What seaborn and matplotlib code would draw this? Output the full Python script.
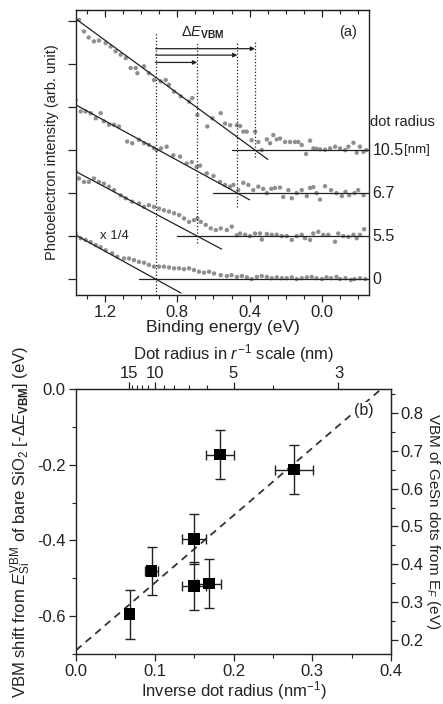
import numpy as np
import matplotlib
matplotlib.use("Agg")
import matplotlib.pyplot as plt
from matplotlib.ticker import MultipleLocator, FixedLocator, FormatStrFormatter
import seaborn as sns

sns.set_style("ticks")
plt.rcParams['font.family'] = ['Liberation Sans', 'DejaVu Sans']
plt.rcParams['axes.unicode_minus'] = False
plt.rcParams['mathtext.fontset'] = 'custom'
plt.rcParams['mathtext.rm'] = 'Liberation Sans'
plt.rcParams['mathtext.it'] = 'Liberation Sans:italic'
plt.rcParams['mathtext.bf'] = 'Liberation Sans:bold'

INK = '#222222'

# ---- panel (a): photoelectron spectra, offset by dot radius ----
x105 = [1.344, 1.316, 1.29, 1.261, 1.233, 1.196, 1.168, 1.141, 1.113, 1.085, 1.058, 1.03, 1.021,
        0.984, 0.957, 0.929, 0.892, 0.864, 0.846, 0.818, 0.781, 0.735, 0.717, 0.689, 0.634, 0.606,
        0.56, 0.536, 0.508, 0.471, 0.453, 0.435, 0.416, 0.389, 0.37, 0.352, 0.333, 0.305, 0.287,
        0.269, 0.25, 0.232, 0.204, 0.177, 0.149, 0.131, 0.112, 0.088, 0.066, 0.048, 0.03, 0.011,
        -0.017, -0.045, -0.073, -0.1, -0.128, -0.146, -0.174, -0.192, -0.21, -0.229, -0.245]
y105 = [6.03, 5.76, 5.62, 5.53, 5.55, 5.49, 5.41, 5.30, 5.22, 5.14, 4.91, 4.91, 4.79,
        4.95, 4.79, 4.63, 4.60, 4.63, 4.52, 4.36, 4.25, 4.13, 4.21, 3.82, 3.55, 3.74,
        3.86, 3.62, 3.58, 3.58, 3.56, 3.43, 3.43, 3.23, 3.43, 3.19, 3.00, 3.25, 3.16,
        3.35, 3.25, 3.27, 3.19, 3.19, 3.19, 3.19, 3.12, 2.91, 3.22, 3.04, 3.03, 3.02,
        3.01, 3.04, 3.08, 3.04, 3.00, 3.08, 3.17, 2.94, 3.08, 2.96, 3.00]

x67 = [1.362, 1.334, 1.307, 1.279, 1.251, 1.224, 1.206, 1.178, 1.15, 1.123, 1.077, 1.049, 1.012,
       0.984, 0.957, 0.929, 0.914, 0.89, 0.859, 0.822, 0.785, 0.748, 0.72, 0.693, 0.674, 0.637,
       0.6, 0.564, 0.536, 0.508, 0.49, 0.463, 0.435, 0.407, 0.38, 0.352, 0.325, 0.305, 0.28,
       0.26, 0.232, 0.214, 0.186, 0.167, 0.14, 0.112, 0.084, 0.066, 0.048, 0.03, 0.011,
       -0.017, -0.05, -0.08, -0.11, -0.13, -0.15, -0.18, -0.2, -0.23]
y67 = [4.17, 3.90, 3.90, 3.86, 3.74, 3.86, 3.67, 3.59, 3.59, 3.55, 3.20, 3.16, 3.24,
       3.16, 3.12, 3.05, 3.00, 3.04, 3.08, 2.88, 2.85, 2.69, 2.72, 2.61, 2.64, 2.46,
       2.40, 2.26, 2.19, 2.15, 2.19, 2.07, 2.24, 2.19, 2.07, 2.15, 2.10, 2.00, 2.10,
       2.12, 2.13, 1.91, 2.07, 1.88, 2.00, 2.07, 1.93, 2.12, 2.14, 2.00, 1.85,
       2.16, 2.07, 2.00, 1.93, 2.03, 1.95, 2.00, 2.07, 1.95]

x55 = [1.362, 1.344, 1.316, 1.289, 1.261, 1.233, 1.206, 1.178, 1.15, 1.113, 1.085, 1.049, 1.012,
       0.984, 0.957, 0.929, 0.901, 0.874, 0.846, 0.818, 0.79, 0.763, 0.735, 0.708, 0.689, 0.67,
       0.643, 0.615, 0.587, 0.56, 0.526, 0.499, 0.471, 0.453, 0.425, 0.398, 0.37, 0.343, 0.333,
       0.305, 0.278, 0.25, 0.222, 0.195, 0.167, 0.14, 0.112, 0.094, 0.066, 0.048, 0.02,
       -0.007, -0.035, -0.072, -0.09, -0.118, -0.146, -0.174, -0.192, -0.21, -0.233]
y55 = [2.50, 2.34, 2.26, 2.26, 2.34, 2.26, 2.22, 2.15, 2.07, 1.95, 1.88, 1.80, 1.76,
       1.68, 1.72, 1.68, 1.64, 1.60, 1.57, 1.53, 1.49, 1.41, 1.33, 1.37, 1.41, 1.33,
       1.26, 1.18, 1.14, 1.18, 1.14, 1.22, 1.02, 1.06, 1.03, 1.00, 1.06, 1.06, 0.92,
       1.05, 1.03, 1.03, 1.00, 1.00, 0.91, 1.00, 1.03, 0.95, 0.91, 1.06, 1.10,
       1.03, 1.03, 0.87, 1.06, 1.00, 0.98, 1.03, 0.95, 1.03, 1.16]

x0 = [1.362, 1.334, 1.307, 1.279, 1.251, 1.224, 1.196, 1.16, 1.132, 1.095, 1.067, 1.04, 1.012,
      0.984, 0.957, 0.929, 0.901, 0.874, 0.846, 0.818, 0.79, 0.763, 0.735, 0.708, 0.68, 0.652,
      0.624, 0.597, 0.56, 0.526, 0.5, 0.47, 0.443, 0.415, 0.389, 0.36, 0.333, 0.305, 0.278,
      0.25, 0.222, 0.195, 0.167, 0.14, 0.112, 0.084, 0.057, 0.03, 0.0, -0.025, -0.05,
      -0.08, -0.1, -0.13, -0.16, -0.18, -0.21, -0.24]
y0 = [1.06, 0.95, 0.91, 0.86, 0.79, 0.74, 0.67, 0.60, 0.52, 0.48, 0.48, 0.44, 0.40,
      0.38, 0.33, 0.29, 0.29, 0.29, 0.27, 0.25, 0.25, 0.23, 0.25, 0.21, 0.17, 0.15,
      0.17, 0.13, 0.09, 0.07, 0.09, 0.05, 0.07, 0.04, 0.00, 0.05, 0.07, 0.05, 0.02,
      0.04, 0.02, 0.02, 0.04, 0.00, 0.02, 0.04, 0.05, 0.02, 0.00, 0.04, 0.02,
      0.05, 0.00, 0.02, -0.02, 0.00, 0.02, 0.00]

# order: r = 0, 5.5, 6.7, 10.5 (bottom to top)
radius_labels = ['0', '5.5', '6.7', '10.5']
baseline = [0, 1, 2, 3]
baseline_start = [1.01, 0.80, 0.60, 0.50]
fit_start_y = [1.02, 2.50, 4.05, 6.05]       # fit line value at 1.36 eV
vbm_edge = [0.92, 0.69, 0.468, 0.37]          # fit line crosses its baseline
fit_end_x = [0.78, 0.555, 0.40, 0.30]
edge_drop_end = [-0.37, 0.84, 1.68, 2.84]     # lower end of the dotted markers
arrow_y = [5.04, 5.21, 5.36]

# ---- panel (b): VBM shift vs inverse radius ----
inv_r = [0.068, 0.096, 0.150, 0.150, 0.169, 0.183, 0.277]
vbm_shift = [-0.595, -0.481, -0.396, -0.521, -0.514, -0.173, -0.213]
inv_r_err = [0.003, 0.008, 0.015, 0.015, 0.015, 0.018, 0.024]
shift_err = [0.065, 0.064, 0.065, 0.064, 0.065, 0.065, 0.065]
fit_intercept, fit_slope = -0.69, 1.78
ef_offset = 0.863
radius_ticks = [15, 10, 5, 3]
radius_minor = [14, 13, 12, 11, 9, 8, 7, 6, 4]

fig = plt.figure(figsize=(4.43, 7.04), dpi=100)
axa = fig.add_axes([0.1716, 0.581, 0.6614, 0.4048])
axb = fig.add_axes([0.1716, 0.071, 0.711, 0.3764])

dot_kw = dict(color='#8f8f8f', s=10, edgecolor='none', ax=axa, zorder=2)
for xs, ys in [(x0, y0), (x55, y55), (x67, y67), (x105, y105)]:
    sns.scatterplot(x=xs, y=ys, **dot_kw)

for i in range(4):
    slope = (fit_start_y[i] - baseline[i]) / (1.36 - vbm_edge[i])
    end_y = baseline[i] + slope * (fit_end_x[i] - vbm_edge[i])
    axa.plot([1.36, fit_end_x[i]], [fit_start_y[i], end_y], color=INK, lw=0.9, zorder=3)
    axa.plot([baseline_start[i], -0.26], [baseline[i], baseline[i]], color=INK, lw=0.9, zorder=3)
    top = 5.75 if i == 0 else 5.52
    axa.plot([vbm_edge[i], vbm_edge[i]], [edge_drop_end[i], top], color=INK, lw=0.9,
             ls=(0, (1, 1.6)), zorder=3)

for j, ay in enumerate(arrow_y):
    axa.annotate('', xy=(vbm_edge[j + 1], ay), xytext=(vbm_edge[0], ay),
                 arrowprops=dict(arrowstyle='-|>', color=INK, lw=0.9,
                                 mutation_scale=6, shrinkA=0, shrinkB=0))

axa.text(0.66, 5.72, r'$\Delta E_{\mathbf{VBM}}$', ha='center', va='center', fontsize=10.5, color=INK)
axa.text(0.93, 0.922, '(a)', transform=axa.transAxes, ha='center', va='center', fontsize=10.5, color=INK)
axa.text(1.23, 1.0, 'x 1/4', ha='left', va='center', fontsize=9.5, color=INK)

blend = matplotlib.transforms.blended_transform_factory(axa.transAxes, axa.transData)
axa.text(1.005, 3.65, 'dot radius', transform=blend, ha='left', va='center', fontsize=10.5,
         color=INK, clip_on=False)
for lab, b in zip(radius_labels, baseline):
    axa.text(1.012, b, lab, transform=blend, ha='left', va='center', fontsize=11.5,
             color=INK, clip_on=False)
axa.text(1.12, 3, '[nm]', transform=blend, ha='left', va='center', fontsize=9.5,
         color=INK, clip_on=False)

axa.set_xlim(1.36, -0.26)
axa.set_ylim(-0.37, 6.26)
axa.xaxis.set_major_locator(MultipleLocator(0.4))
axa.xaxis.set_minor_locator(MultipleLocator(0.1))
axa.xaxis.set_major_formatter(FormatStrFormatter('%.1f'))
axa.yaxis.set_major_locator(MultipleLocator(1))
axa.set_yticklabels([])
axa.tick_params(axis='x', which='major', direction='out', length=5, width=0.9, labelsize=12,
                colors=INK, pad=2.5)
axa.tick_params(axis='x', which='minor', direction='out', length=3, width=0.8, colors=INK)
axa.tick_params(axis='y', which='major', direction='out', length=6, width=0.9, colors=INK)
topa = axa.secondary_xaxis('top')
topa.xaxis.set_major_locator(MultipleLocator(0.4))
topa.xaxis.set_minor_locator(MultipleLocator(0.1))
topa.tick_params(which='major', direction='in', length=5, width=0.9, labeltop=False, colors=INK)
topa.tick_params(which='minor', direction='in', length=3, width=0.8, colors=INK)
axa.set_xlabel('Binding energy (eV)', fontsize=12.5, color=INK, labelpad=0)
axa.set_ylabel('Photoelectron intensity (arb. unit)', fontsize=10.5, color=INK, labelpad=3)
for sp in axa.spines.values():
    sp.set_color(INK)
    sp.set_linewidth(1.0)
topa.spines['top'].set_color(INK)

# ---- panel (b) ----
xs_line = np.array([0.0, 0.4])
axb.plot(xs_line, fit_intercept + fit_slope * xs_line, color='#333333', lw=1.3,
         ls=(0, (4, 3)), zorder=2)
axb.errorbar(inv_r, vbm_shift, xerr=inv_r_err, yerr=shift_err, fmt='none', ecolor=INK,
             elinewidth=1.0, capsize=3.5, capthick=1.0, zorder=3)
sns.scatterplot(x=inv_r, y=vbm_shift, marker='s', s=70, color='black', edgecolor='none',
                ax=axb, zorder=4)
axb.text(0.915, 0.92, '(b)', transform=axb.transAxes, ha='center', va='center', fontsize=11.5,
         color=INK, bbox=dict(facecolor='white', edgecolor='none', pad=0.5))

axb.set_xlim(0.0, 0.4)
axb.set_ylim(-0.7, 0.0)
axb.xaxis.set_major_locator(MultipleLocator(0.1))
axb.xaxis.set_minor_locator(MultipleLocator(0.05))
axb.xaxis.set_major_formatter(FormatStrFormatter('%.1f'))
axb.yaxis.set_major_locator(MultipleLocator(0.2))
axb.yaxis.set_minor_locator(MultipleLocator(0.1))
axb.yaxis.set_major_formatter(FormatStrFormatter('%.1f'))
axb.tick_params(which='major', direction='out', length=5, width=0.9, labelsize=12, colors=INK,
                pad=2.5)
axb.tick_params(which='minor', direction='out', length=3, width=0.8, colors=INK)
axb.set_xlabel(r'Inverse dot radius (nm$^{-1}$)', fontsize=12, color=INK, labelpad=0)
axb.set_ylabel(r'VBM shift from $E_{\mathrm{Si}}^{\mathrm{VBM}}$ of bare SiO$_2$ [-$\Delta E_{\mathbf{VBM}}$] (eV)',
               fontsize=12, color=INK, labelpad=3)

topb = axb.secondary_xaxis('top')
topb.xaxis.set_major_locator(FixedLocator([1 / r for r in radius_ticks]))
topb.xaxis.set_minor_locator(FixedLocator([1 / r for r in radius_minor]))
topb.set_xticklabels([str(r) for r in radius_ticks])
topb.tick_params(which='major', direction='out', length=5, width=0.9, labelsize=12, colors=INK, pad=1)
topb.tick_params(which='minor', direction='out', length=3, width=0.8, colors=INK)
topb.set_xlabel(r'Dot radius in $r^{\mathrm{-1}}$ scale (nm)', fontsize=12, color=INK, labelpad=4.5)

rightb = axb.secondary_yaxis('right', functions=(lambda v: v + ef_offset, lambda v: v - ef_offset))
rightb.yaxis.set_major_locator(MultipleLocator(0.1))
rightb.yaxis.set_minor_locator(MultipleLocator(0.05))
rightb.yaxis.set_major_formatter(FormatStrFormatter('%.1f'))
rightb.tick_params(which='major', direction='out', length=5, width=0.9, labelsize=12, colors=INK,
                   pad=2)
rightb.tick_params(which='minor', direction='out', length=3, width=0.8, colors=INK)
rightb.set_ylabel(r'VBM of GeSn dots from E$_F$ (eV)', fontsize=11, color=INK, rotation=270,
                  labelpad=13)
for sp in axb.spines.values():
    sp.set_color(INK)
    sp.set_linewidth(1.0)

fig.savefig('out.png', dpi=100)
